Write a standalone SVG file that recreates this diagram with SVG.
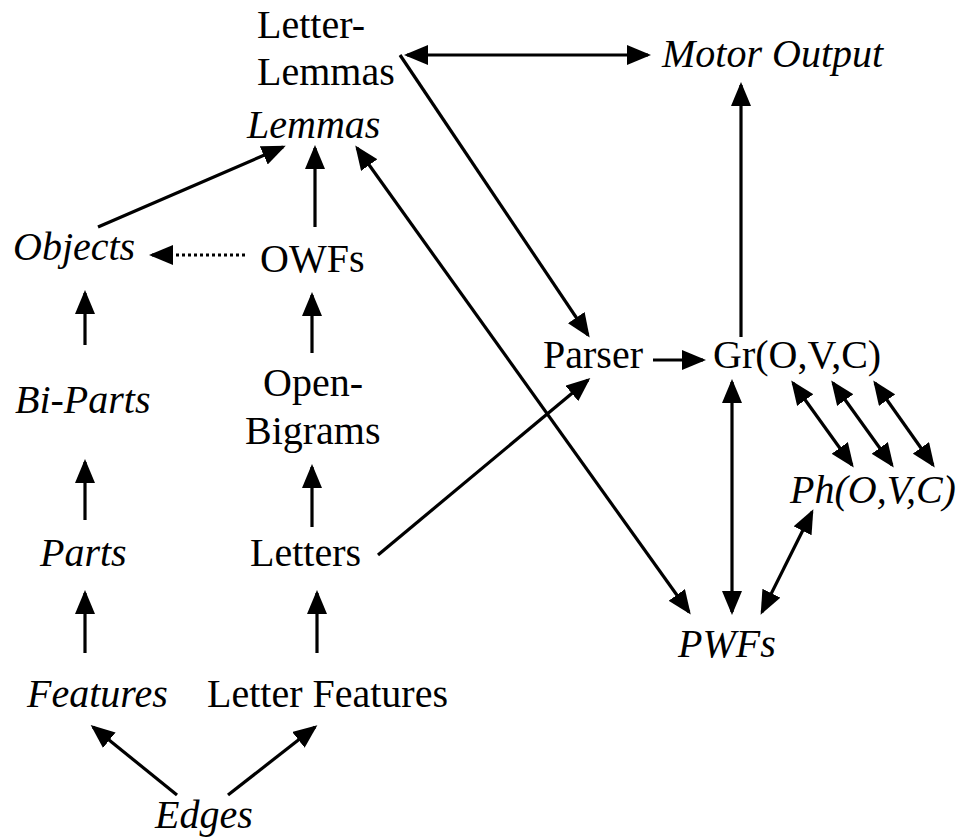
<svg xmlns="http://www.w3.org/2000/svg" width="963" height="837" viewBox="0 0 963 837" font-family="'Liberation Serif', 'Times New Roman', 'DejaVu Serif', serif">
<style>
text{font-family:'Liberation Serif','Times New Roman','DejaVu Serif',serif;font-size:40px;fill:#000}
.i{font-style:italic}
.c line{stroke:#000;stroke-width:3.2;fill:none}
.a{marker-end:url(#ah)}
.d{marker-start:url(#ah);marker-end:url(#ah)}
.dot{stroke-dasharray:3 3}
</style>
<defs>
<marker id="ah" markerUnits="userSpaceOnUse" markerWidth="24" markerHeight="20" refX="21" refY="10" orient="auto-start-reverse" viewBox="0 0 24 20">
<path d="M0,0 L24,10 L0,20 z" fill="#000"/>
</marker>
</defs>
<rect width="963" height="837" fill="#fff"/>
<g id="letter-lemmas"><text x="257" y="38">Letter-</text><text x="257" y="85">Lemmas</text></g>
<g id="lemmas"><text class="i" x="247" y="138">Lemmas</text></g>
<g id="motor-output"><text class="i" x="662" y="67">Motor Output</text></g>
<g id="objects"><text class="i" x="13" y="260">Objects</text></g>
<g id="owfs"><text x="260" y="272">OWFs</text></g>
<g id="bi-parts"><text class="i" x="15" y="413">Bi-Parts</text></g>
<g id="open-bigrams"><text x="263" y="396">Open-</text><text x="245" y="444">Bigrams</text></g>
<g id="parser"><text x="543" y="368">Parser</text></g>
<g id="gr"><text x="713" y="368">Gr(O,V,C)</text></g>
<g id="ph"><text class="i" x="790" y="503">Ph(O,V,C)</text></g>
<g id="parts"><text class="i" x="40" y="566">Parts</text></g>
<g id="letters"><text x="250" y="566">Letters</text></g>
<g id="pwfs"><text class="i" x="678" y="657">PWFs</text></g>
<g id="features"><text class="i" x="27" y="707">Features</text></g>
<g id="letter-features"><text x="207" y="707">Letter Features</text></g>
<g id="edges"><text class="i" x="155" y="828">Edges</text></g>
<g id="connectors" class="c">
<line class="d" x1="407" y1="55" x2="648" y2="55"/>
<line class="a" x1="400" y1="55" x2="588" y2="335"/>
<line class="a" x1="741" y1="337" x2="741" y2="85"/>
<line class="a" x1="98" y1="227" x2="283" y2="147"/>
<line class="a" x1="315" y1="227" x2="315" y2="148"/>
<line class="d" x1="357" y1="148" x2="689" y2="612"/>
<line class="a dot" x1="245" y1="255" x2="152" y2="255"/>
<line class="a" x1="85" y1="345" x2="85" y2="293"/>
<line class="a" x1="312" y1="353" x2="312" y2="295"/>
<line class="a" x1="85" y1="520" x2="85" y2="462"/>
<line class="a" x1="312" y1="527" x2="312" y2="467"/>
<line class="a" x1="85" y1="653" x2="85" y2="593"/>
<line class="a" x1="317" y1="653" x2="317" y2="593"/>
<line class="a" x1="378" y1="555" x2="588" y2="380"/>
<line class="a" x1="653" y1="360" x2="703" y2="360"/>
<line class="d" x1="732" y1="382" x2="732" y2="612"/>
<line class="d" x1="793" y1="383" x2="852" y2="465"/>
<line class="d" x1="833" y1="383" x2="892" y2="465"/>
<line class="d" x1="875" y1="383" x2="933" y2="465"/>
<line class="d" x1="812" y1="512" x2="762" y2="612"/>
<line class="a" x1="177" y1="795" x2="93" y2="727"/>
<line class="a" x1="228" y1="795" x2="315" y2="727"/>
</g>
</svg>
